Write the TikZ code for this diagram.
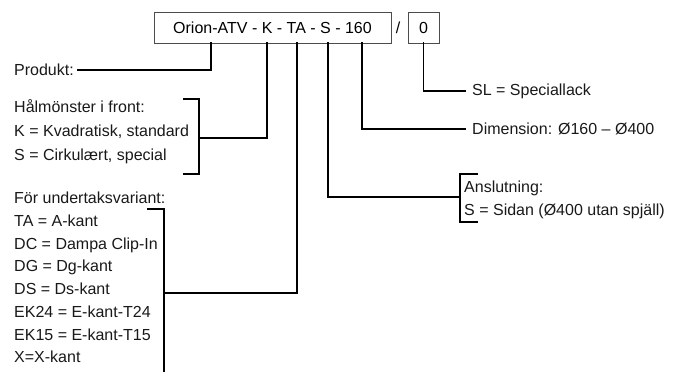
\documentclass[tikz,border=0pt]{standalone}
\usepackage{fontspec}
\setmainfont{Liberation Sans}
\begin{document}
\begin{tikzpicture}[x=1pt,y=-1pt,
  txt/.style={anchor=base west, inner sep=0pt, text=black!90, font=\fontsize{16}{19}\selectfont},
  codebox/.style={draw=black!70, line width=0.7pt, inner sep=0pt, font=\fontsize{16}{19}\selectfont},
  conn/.style={line width=1.8pt, line cap=rect},
  brk/.style={line width=1.8pt}]
\useasboundingbox (0,0) rectangle (673,372);
% code boxes
\node[codebox, minimum width=237pt, minimum height=31pt] (code) at (272.5,27.5) {Orion-ATV - K - TA - S - 160};
\node[inner sep=0pt, font=\fontsize{16}{19}\selectfont] (slash) at (398,27.5) {/};
\node[codebox, minimum width=31pt, minimum height=31pt] (zero) at (423.5,27.5) {0};
% labels
\node[txt] (prod) at (14,75) {Produkt:};
\node[txt] (hal) at (14,112) {Hålmönster i front:};
\node[txt] (halk) at (14,136) {K = Kvadratisk, standard};
\node[txt] (hals) at (14,160) {S = Cirkulært, special};
\node[txt] (for) at (14,203) {För undertaksvariant:};
\node[txt] (ta) at (14,226) {TA = A-kant};
\node[txt] (dc) at (14,249) {DC = Dampa Clip-In};
\node[txt] (dg) at (14,271.5) {DG = Dg-kant};
\node[txt] (ds) at (14,294) {DS = Ds-kant};
\node[txt] (ek24) at (14,317) {EK24 = E-kant-T24};
\node[txt] (ek15) at (14,340) {EK15 = E-kant-T15};
\node[txt] (xk) at (14,362) {X=X-kant};
\node[txt] (sl) at (472,95) {SL = Speciallack};
\node[txt] (dim) at (472,134.5) {Dimension: Ø160 – Ø400};
\node[txt] (ans) at (464,192) {Anslutning:};
\node[txt] (anss) at (464,215) {S = Sidan (Ø400 utan spjäll)};
% brackets
\coordinate (hb) at (199,138);
\draw[brk] (183,99) -- (199,99) -- (199,174) -- (183,174);
\coordinate (fb) at (164,293);
\draw[brk] (147,209) -- (164,209) -- (164,372);
\coordinate (ab) at (460,197);
\draw[brk] (478,174) -- (460,174) -- (460,222) -- (478,222);
% connectors
\draw[conn] (code.south -| 211,0) |- ([xshift=4pt,yshift=-1pt]prod.east);
\draw[conn] (code.south -| 267,0) |- (hb);
\draw[conn] (code.south -| 297,0) |- (fb);
\draw[conn] (code.south -| 328,0) |- (ab);
\draw[conn] (code.south -| 362,0) |- ([xshift=-7pt]dim.west);
\draw[conn] (zero.south) |- ([xshift=-7pt]sl.west);
\end{tikzpicture}
\end{document}
